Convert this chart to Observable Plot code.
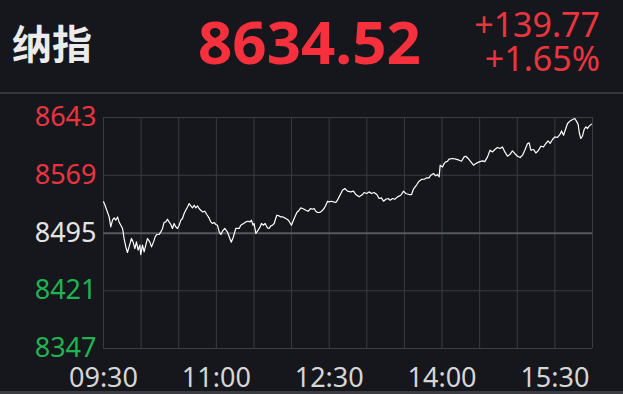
<!DOCTYPE html>
<html>
<head>
<meta charset="utf-8">
<script src="https://cdn.jsdelivr.net/npm/d3@7"></script>
<script src="https://cdn.jsdelivr.net/npm/@observablehq/plot@0.6"></script>
<style>
  html, body { margin: 0; padding: 0; background: #15171c; }
  #wrap { position: relative; width: 623px; height: 394px; overflow: hidden; background: #15171c; font-family: "Noto Sans", "Noto Sans CJK SC", sans-serif; }
  .hdr { position: absolute; white-space: nowrap; line-height: 1; }
  #title { left: 12px; top: 22px; font-size: 40px; font-weight: 700; color: #ebebeb; font-family: "Noto Sans CJK SC", sans-serif; }
  #last { left: 198px; top: 11px; font-size: 60px; font-weight: 700; color: #f7303d; }
  .chg { right: 23px; font-size: 34px; color: #ec3440; text-align: right; line-height: 30px; }
  #chg1 { top: 9px; }
  #chg2 { top: 43px; }
  #sep { position: absolute; left: 0; top: 92px; width: 623px; height: 2px; background: #34373c; }
  #bottom { position: absolute; left: 0; top: 391px; width: 623px; height: 3px; background: #3a3c41; }
  #chart { position: absolute; left: 0; top: 94px; }
</style>
</head>
<body>
<div id="wrap">
  <div id="title" class="hdr"></div>
  <div id="last" class="hdr"></div>
  <div id="chg1" class="hdr chg"></div>
  <div id="chg2" class="hdr chg"></div>
  <div id="sep"></div>
  <div id="chart"></div>
  <div id="bottom"></div>
</div>
<script>
const title = "纳指";
const lastValue = "8634.52";
const change = "+139.77";
const changePct = "+1.65%";

// minutes after 09:30
const minutes = [0,1.0,2.6,4.5,5.8,7.2,8.5,9.8,11.2,12.4,13.8,15.2,16.4,17.8,19.1,20.4,22.3,23.6,25.0,26.3,27.6,29.0,29.7,31.1,32.4,33.7,35.1,36.9,38.3,39.9,41.2,42.5,44.3,45.7,47.1,48.3,49.7,51.0,52.3,53.7,55.0,56.3,57.7,59.0,60.3,61.7,63.0,64.3,65.6,67.0,68.3,69.6,71.0,72.3,73.6,75.0,76.2,77.6,79.0,80.8,82.4,84.2,85.6,86.9,88.2,89.6,90.9,92.2,93.6,94.9,96.7,98.9,100.7,101.9,103.5,105.5,108.2,109.5,111.7,113.5,115.3,116.9,118.0,119.3,120.1,121.5,123.3,124.9,126.0,127.6,128.9,130.8,132.1,133.4,134.8,136.1,136.9,138.2,140.1,141.4,143.2,144.6,146.8,148.0,149.9,151.5,152.6,154.2,156.0,157.4,158.7,160.0,161.4,163.2,165.3,166.7,168.0,169.3,170.7,172.0,173.3,174.7,175.9,177.3,178.7,179.9,181.8,183.4,185.3,186.6,187.9,189.3,190.6,192.5,194.6,197.2,199.4,201.2,203.9,206.6,207.8,210.0,211.8,213.8,215.8,218.0,219.8,221.7,223.3,225.2,227.0,228.6,230.5,232.3,234.5,237.1,239.3,241.1,243.7,245.7,247.2,249.9,251.7,253.6,255.7,257.9,259.7,261.0,263.2,265.0,266.4,267.7,268.5,270.4,271.7,273.0,274.4,275.6,278.4,281.0,283.6,285.5,287.6,289.0,290.8,293.0,295.1,297.0,299.6,302.3,304.1,306.3,308.3,310.3,312.1,314.2,316.3,318.2,320.1,322.2,324.3,326.2,328.0,330.2,332.3,334.2,336.0,338.2,339.5,340.8,343.0,344.8,346.6,348.8,350.9,352.8,354.6,356.2,358.1,360.0,362.1,364.2,365.3,366.9,368.7,370.1,372.2,374.1,375.9,377.5,378.5,379.6,380.7,382.0,383.3,384.7,386.0,387.3,389.2];
const values = [8534.9,8531.5,8524.2,8515.6,8502.8,8511.4,8514.3,8511.4,8515.6,8509.2,8505.0,8500.8,8488.0,8477.2,8470.0,8477.2,8488.0,8483.6,8475.1,8483.6,8473.0,8479.4,8467.4,8479.4,8470.8,8479.4,8488.0,8483.6,8477.2,8483.6,8490.0,8493.1,8493.1,8496.4,8500.8,8508.5,8509.2,8512.7,8509.2,8505.9,8500.8,8507.2,8502.8,8500.8,8505.0,8511.4,8513.6,8520.0,8524.2,8528.4,8532.8,8529.7,8527.2,8530.6,8527.2,8529.7,8526.4,8524.2,8522.0,8522.9,8518.7,8514.3,8509.2,8507.2,8508.5,8505.9,8505.0,8496.7,8493.1,8497.3,8500.8,8496.0,8488.3,8483.2,8489.6,8500.8,8500.8,8505.0,8507.2,8509.2,8510.1,8509.2,8511.4,8505.0,8507.2,8494.4,8498.6,8502.8,8507.2,8505.0,8507.2,8501.5,8500.8,8504.1,8505.0,8507.2,8511.4,8517.8,8516.9,8515.6,8515.6,8514.3,8512.3,8510.1,8505.0,8511.4,8515.6,8521.3,8524.2,8527.2,8526.4,8525.5,8524.2,8522.9,8526.4,8525.5,8526.4,8522.9,8521.3,8521.3,8522.0,8524.2,8526.4,8530.6,8535.7,8534.9,8535.7,8534.9,8534.1,8537.0,8541.3,8545.6,8549.8,8552.0,8548.6,8547.7,8548.6,8544.3,8541.3,8544.3,8546.9,8545.6,8547.7,8545.6,8546.9,8544.3,8539.2,8540.0,8535.7,8538.3,8539.2,8537.0,8539.2,8538.3,8541.3,8543.4,8548.6,8545.6,8544.3,8544.3,8551.1,8557.1,8561.4,8563.6,8563.9,8565.6,8565.6,8569.1,8571.2,8568.2,8570.0,8566.9,8581.9,8579.7,8584.1,8586.1,8587.0,8589.6,8590.5,8589.6,8588.3,8587.0,8592.5,8593.4,8590.5,8586.1,8581.9,8584.1,8586.1,8587.4,8586.4,8592.5,8601.1,8598.9,8602.0,8604.6,8603.3,8605.3,8598.9,8593.4,8596.0,8600.2,8596.9,8593.4,8591.7,8594.7,8601.1,8609.7,8610.5,8601.1,8602.0,8597.6,8600.2,8606.2,8605.3,8609.7,8613.0,8609.7,8614.8,8618.1,8617.4,8621.6,8625.8,8620.3,8628.9,8635.3,8638.6,8640.4,8641.7,8637.4,8634.4,8622.5,8616.1,8619.0,8627.6,8631.0,8628.9,8631.9,8634.5];

const prevClose = 8494.75;
const yTicks = [8347, 8421, 8495, 8569, 8643];
const yTickColors = ["#1fb450", "#1fb450", "#e4e4e4", "#ec3440", "#ec3440"];
const xTicks = [0, 90, 180, 270, 360];
const xTickLabels = ["09:30", "11:00", "12:30", "14:00", "15:30"];
const gridMinutes = [0, 30, 60, 90, 120, 150, 180, 210, 240, 270, 300, 330, 360, 390];

document.getElementById("title").textContent = title;
document.getElementById("last").textContent = lastValue;
document.getElementById("chg1").textContent = change;
document.getElementById("chg2").textContent = changePct;

const data = minutes.map((m, i) => ({m, v: values[i]}));
const font = '"Noto Sans", sans-serif';

const chart = Plot.plot({
  width: 623,
  height: 297,
  marginLeft: 103,
  marginRight: 31,
  marginTop: 23,
  marginBottom: 43,
  style: {background: "transparent", fontFamily: font, overflow: "visible"},
  x: {domain: [0, 390], axis: null},
  y: {domain: [8347, 8643], axis: null},
  color: {type: "identity"},
  marks: [
    Plot.ruleX(gridMinutes, {stroke: "#393c42", strokeWidth: 1}),
    Plot.ruleY(yTicks.filter(d => d !== 8495), {stroke: "#393c42", strokeWidth: 1}),
    Plot.ruleY([prevClose], {stroke: "#55585d", strokeWidth: 2}),
    Plot.line(data, {x: "m", y: "v", stroke: "#ffffff", strokeWidth: 1.2, curve: "linear"}),
    Plot.text(yTicks, {
      x: 0, y: d => d, text: d => String(d),
      fill: (d, i) => yTickColors[i],
      textAnchor: "end", dx: -7, fontSize: 27, lineAnchor: "middle"
    }),
    Plot.text(xTicks, {
      x: d => d, y: 8347, text: (d, i) => xTickLabels[i],
      fill: "#d6d6d6", fontSize: 27, lineAnchor: "top", dy: 19
    })
  ]
});
document.getElementById("chart").appendChild(chart);
</script>
</body>
</html>
